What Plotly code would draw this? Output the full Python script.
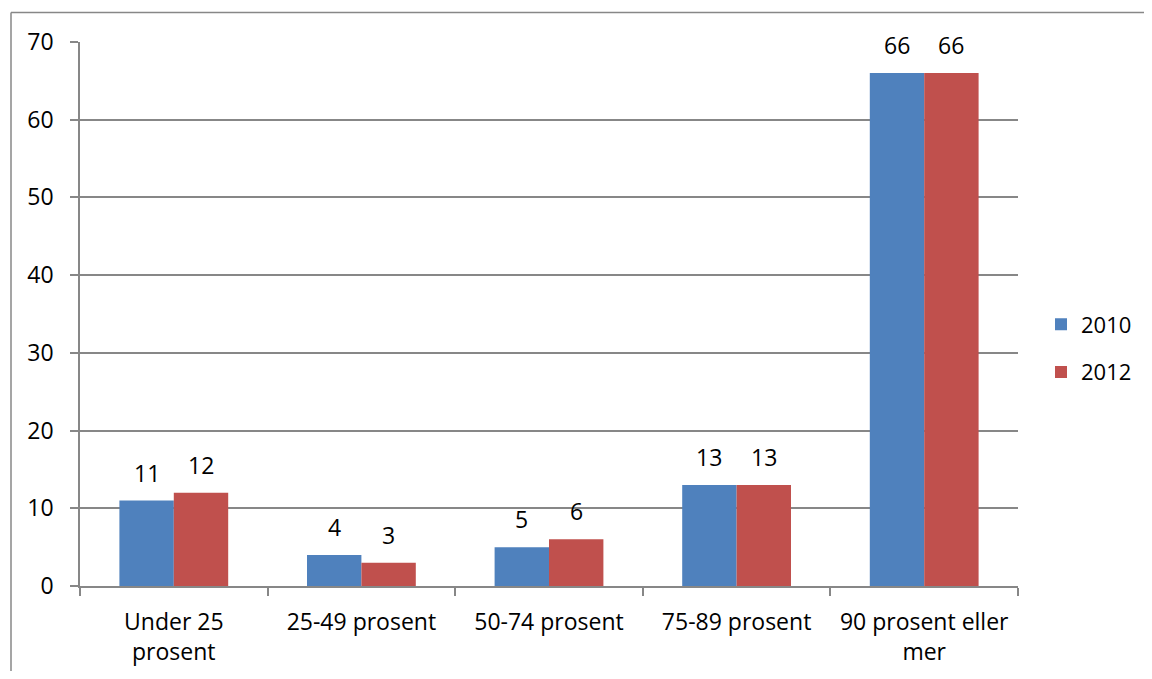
import plotly.graph_objects as go

categories = ["Under 25<br>prosent", "25-49 prosent", "50-74 prosent", "75-89 prosent", "90 prosent eller<br>mer"]
series_names = ["2010", "2012"]
values_2010 = [11, 4, 5, 13, 66]
values_2012 = [12, 3, 6, 13, 66]
colors = ["#4F81BD", "#C0504D"]
y_ticks = [0, 10, 20, 30, 40, 50, 60, 70]

OFF = 8  # page body margin
W, H = 1152 - 2 * OFF, 679 - 2 * OFF
L, R, T, B = 80 - OFF, 1018 - OFF, 42 - OFF, 586 - OFF
FS = 23
GRID = "#878787"
BARGAP = 0.42

fig = go.Figure()
for name, vals, col in zip(series_names, [values_2010, values_2012], colors):
    fig.add_trace(go.Bar(
        x=categories, y=vals, name=name,
        marker=dict(color=col, line=dict(width=0)),
        legendgroup=name,
    ))

# data labels as annotations placed on the bars through the axes
cat_px = (R - L) / len(categories)
bar_px = cat_px * (1 - BARGAP) / 2
for i, vals in enumerate([values_2010, values_2012]):
    shift = (i - 0.5) * bar_px
    for c, v in zip(categories, vals):
        fig.add_annotation(x=c, y=v, text=str(v), showarrow=False, xshift=shift,
                           yanchor="bottom", yshift=10,
                           font=dict(size=FS, color="#000000"))

legend_y = 1 - ((348.5 - OFF) - T) / (B - T)
legend_x = ((1041 - OFF) - L) / (R - L)

font = "Open Sans"
fig.update_layout(
    width=W, height=H,
    margin=dict(l=L, r=W - R, t=T, b=H - B, autoexpand=False),
    paper_bgcolor="white", plot_bgcolor="white",
    barmode="group", bargap=BARGAP, bargroupgap=0,
    font=dict(family=font, size=FS, color="#000000"),
    showlegend=True,
    legend=dict(x=legend_x, y=legend_y, xanchor="left", yanchor="middle",
                font=dict(size=22), tracegroupgap=16,
                itemwidth=30, bgcolor="rgba(0,0,0,0)"),
)
fig.update_yaxes(range=[0, 70], tickvals=y_ticks, showgrid=True, gridcolor=GRID, gridwidth=1.5,
                 showline=True, linecolor=GRID, linewidth=1.5, ticks="outside", ticklen=8,
                 tickcolor=GRID, tickwidth=1.5, zeroline=False, ticklabelstandoff=12,
                 tickfont=dict(size=FS))
fig.update_xaxes(range=[-0.5, 4.5], showline=True, linecolor=GRID, linewidth=1.5,
                 ticks="outside", tickson="boundaries", ticklen=8, tickcolor=GRID, tickwidth=1.5,
                 showgrid=False, tickfont=dict(size=FS), ticklabelstandoff=15)

# outer chart border (top and left visible)
x_left = (11 - OFF - L) / (R - L)
y_top = 1 + (T - (12.5 - OFF)) / (B - T)
fig.add_shape(type="line", xref="paper", yref="paper", x0=x_left, x1=1.3, y0=y_top, y1=y_top,
              line=dict(color=GRID, width=1.5))
fig.add_shape(type="line", xref="paper", yref="paper", x0=x_left, x1=x_left, y0=y_top, y1=-0.3,
              line=dict(color=GRID, width=1.5))

fig.write_html("out.html")
